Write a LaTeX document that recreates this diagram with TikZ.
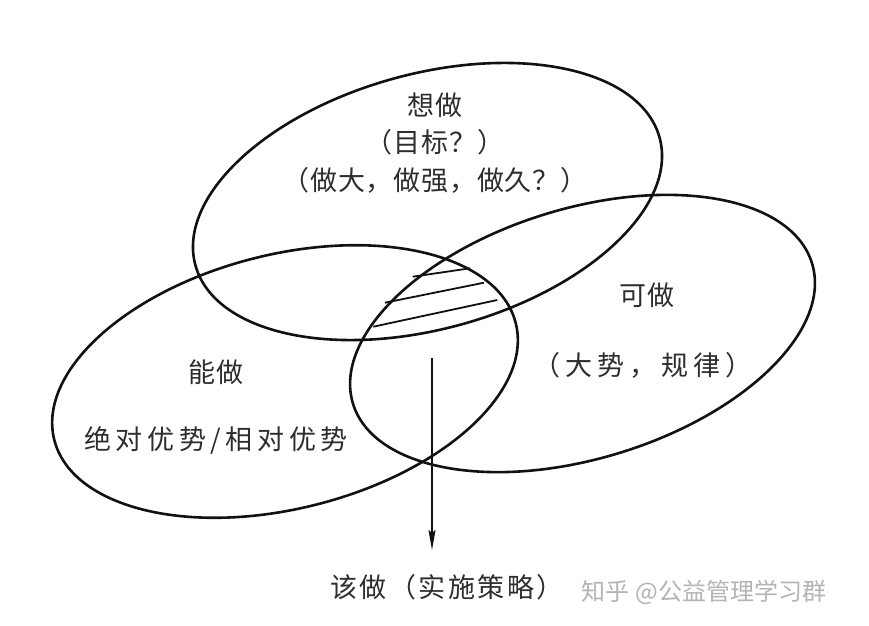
\documentclass[tikz,border=0pt]{standalone}
\usepackage{fontspec}
\setmainfont{Noto Sans CJK SC}
\newfontfamily\cjk{Noto Sans CJK SC}
\usetikzlibrary{shapes.geometric,arrows.meta}
\definecolor{ink}{HTML}{111111}
\definecolor{txt}{HTML}{2E2E2E}
\definecolor{wm}{HTML}{B4B4B4}
\tikzset{
  ell/.style={ellipse, draw=ink, line width=2.6pt, inner sep=0pt, outer sep=0pt},
  lbl/.style={text=txt, font=\cjk\fontsize{27}{37.5}\selectfont, inner sep=0pt, align=center},
  sp/.style={font=\cjk\addfontfeatures{LetterSpace=#1}\fontsize{27}{37.5}\selectfont},
  hatch/.style={draw=ink, line width=1.8pt},
  arr/.style={draw=ink, line width=1.6pt, -{Stealth[length=20pt, width=7pt, inset=3pt]}}
}
\begin{document}
\begin{tikzpicture}[x=1pt,y=1pt]
\fill[white] (0,0) rectangle (869,625);
\useasboundingbox (0,0) rectangle (869,625);
% ellipses
\node[ell, rotate=15.4, minimum width=481.4pt, minimum height=255pt] (want) at (427.5,423.5) {};
\node[ell, rotate=14.2, minimum width=476pt, minimum height=254pt] (can) at (285,243.5) {};
\node[ell, rotate=17, minimum width=480pt, minimum height=250pt] (may) at (582.5,291.5) {};
% hatch
\coordinate (h1a) at (412.7,348.3); \coordinate (h1b) at (470,356.7);
\coordinate (h2a) at (385,322.3);   \coordinate (h2b) at (484,342.3);
\coordinate (h3a) at (373.3,298.3); \coordinate (h3b) at (497.3,325);
\draw[hatch] (h1a) -- (h1b);
\draw[hatch] (h2a) -- (h2b);
\draw[hatch] (h3a) -- (h3b);
% labels
\node[lbl, sp=3] (wantT) at (435,482) {想做\\（目标？）\\（做大，做强，做久？）};
\node[lbl, sp=6] (mayA) at (647,330) {可做};
\node[lbl, sp=18] (mayB) at (643,260) {（大势，规律）};
\node[lbl, sp=6] (canA) at (216,253) {能做};
\node[lbl, sp=17] (canB) at (216,185) {绝对优势/相对优势};
\node[lbl, sp=9] (goal) at (447,38) {该做（实施策略）};
\node[text=wm, font=\cjk\fontsize{24}{28}\selectfont, inner sep=0pt] (mark) at (704,33) {知乎 @公益管理学习群};
% arrow
\coordinate (astart) at (432,267);
\draw[arr] (astart) -- ([yshift=24pt]astart |- goal.north);
\end{tikzpicture}
\end{document}
